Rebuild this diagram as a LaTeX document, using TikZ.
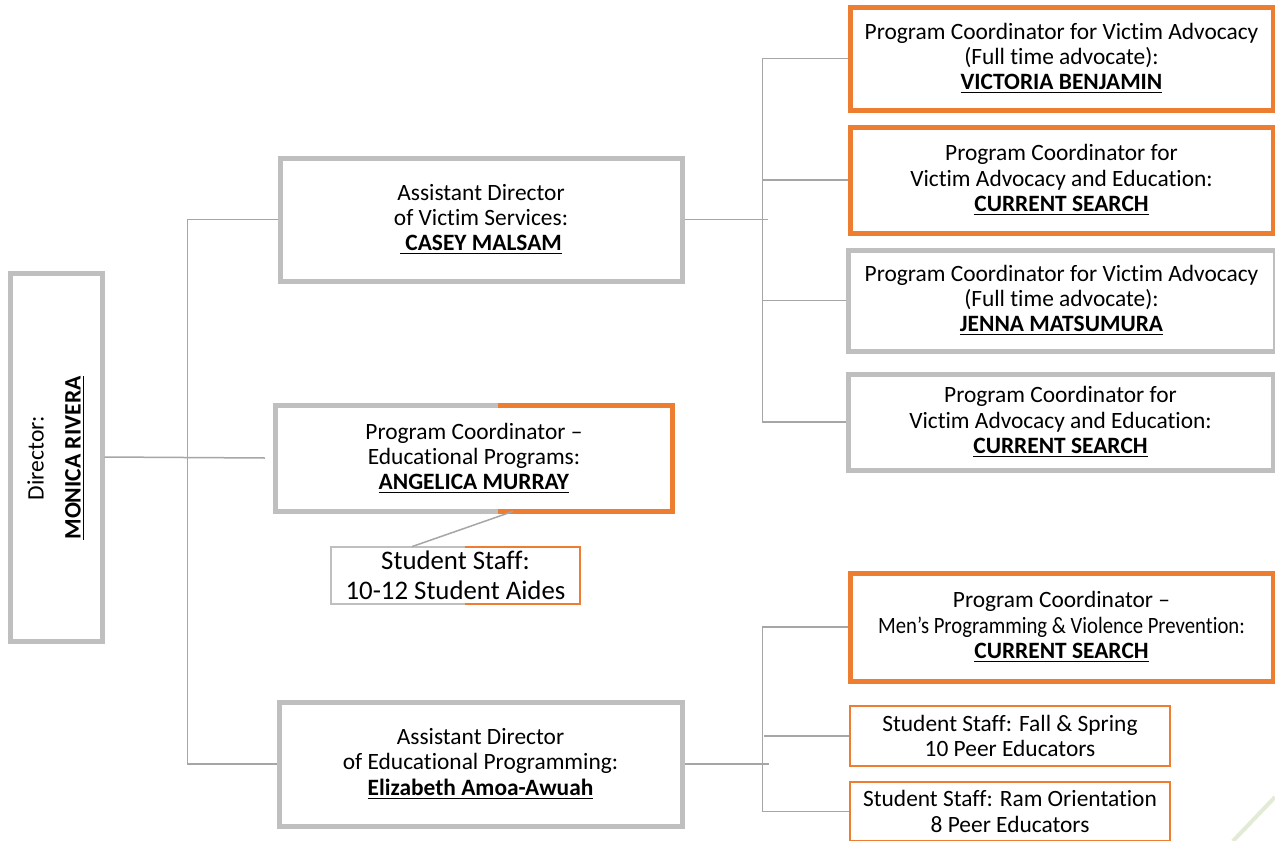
\documentclass[tikz,border=0pt]{standalone}
\usepackage{fontspec}
\setmainfont{Carlito}[Ligatures={TeX,NoCommon}]
\usepackage{graphicx}
\usetikzlibrary{calc}
\definecolor{org}{HTML}{ED7D31}
\definecolor{gbox}{HTML}{BFBFBF}
\definecolor{gline}{HTML}{A6A6A6}
\definecolor{grn}{HTML}{E3EBD6}
\begin{document}
\begin{tikzpicture}[x=0.5pt,y=-0.5pt,
  base/.style={shape=rectangle, align=center, inner sep=0pt, fill=white,
    font=\fontsize{11.7}{12.6}\selectfont},
  graybox/.style={base, draw=gbox, line width=2.5pt},
  orgbox/.style={base, draw=org, line width=2.5pt},
  orgthin/.style={base, draw=org, line width=1pt},
  splitbox/.style={base, draw=none},
  conn/.style={draw=gline, line width=0.75pt}]
\useasboundingbox (0,0) rectangle (1275,841);
\fill[white] (0,0) rectangle (1275,841);
\draw[grn, line width=2pt] (1233,841) -- (1275,797);

% left column
\node[graybox, minimum width=46pt, minimum height=184pt] (dir) at (56,457) {};
\node[rotate=90, align=center, font=\fontsize{11.8}{18.5}\selectfont] (dirtext) at (56,458)
  {Director:\\\underline{\textbf{MONICA RIVERA}}};

% middle column
\node[graybox, minimum width=201pt, minimum height=61.5pt] (avs) at (481,219.5)
  {Assistant Director\\of Victim Services:\\\underline{\textbf{\ CASEY MALSAM}}};
\node[splitbox, minimum width=198pt, minimum height=52.5pt] (pce) at (474,458.5)
  {Program Coordinator –\\Educational Programs:\\\underline{\textbf{ANGELICA MURRAY}}};
\coordinate (pcesplit) at (498,458.5);
\draw[gbox, line width=2.5pt, line join=miter] (pcesplit |- pce.north) -- (pce.north west) -- (pce.south west) -- (pcesplit |- pce.south);
\draw[org, line width=2.5pt, line join=miter] (pcesplit |- pce.north) -- (pce.north east) -- (pce.south east) -- (pcesplit |- pce.south);

\node[splitbox, minimum width=124.5pt, minimum height=28.5pt, font=\fontsize{13.4}{15}\selectfont] (ss) at (455.5,575.5)
  {Student Staff:\\10-12 Student Aides};
\coordinate (sssplit) at (465,575.5);
\draw[gbox, line width=1pt] (sssplit |- ss.north) -- (ss.north west) -- (ss.south west) -- (sssplit |- ss.south);
\draw[org, line width=1pt] (sssplit |- ss.north) -- (ss.north east) -- (ss.south east) -- (sssplit |- ss.south);

\node[graybox, minimum width=201.5pt, minimum height=62pt] (aep) at (480.5,764)
  {Assistant Director\\of Educational Programming:\\\underline{\textbf{Elizabeth Amoa-Awuah}}};

% right column
\node[orgbox, minimum width=211.5pt, minimum height=51.5pt] (vb) at (1061.5,58.5)
  {Program Coordinator for Victim Advocacy\\(Full time advocate):\\\underline{\textbf{VICTORIA BENJAMIN}}};
\node[orgbox, minimum width=211.5pt, minimum height=53pt] (cs1) at (1061.5,180)
  {Program Coordinator for\\Victim Advocacy and Education:\\\underline{\textbf{CURRENT SEARCH}}};
\node[graybox, minimum width=213.5pt, minimum height=50.5pt] (jm) at (1061.5,300.5)
  {Program Coordinator for Victim Advocacy\\(Full time advocate):\\\underline{\textbf{JENNA MATSUMURA}}};
\node[graybox, minimum width=212.5pt, minimum height=48pt] (cs2) at (1060.5,422)
  {Program Coordinator for\\Victim Advocacy and Education:\\\underline{\textbf{CURRENT SEARCH}}};
\node[orgbox, minimum width=211.5pt, minimum height=54pt] (men) at (1061.5,627)
  {Program Coordinator –\\\scalebox{0.885}[1]{Men’s Programming \& Violence Prevention:}\\\underline{\textbf{CURRENT SEARCH}}};
\node[orgthin, minimum width=160pt, minimum height=30pt] (fs) at (1010,736)
  {Student Staff: Fall \& Spring\\10 Peer Educators};
\node[orgthin, minimum width=160pt, minimum height=29.5pt] (ram) at (1010,811.5)
  {Student Staff: Ram Orientation\\8 Peer Educators};

% connectors
\coordinate (stub) at (265,458);
\draw[conn] (dir.east) -- (stub);
\draw[conn] (avs.west) -- ++(-90,0) |- (aep.west);
\draw[conn] (avs.east) -- ++(83,0);
\draw[conn] (vb.west) -- ++(-85,0) |- (cs2.west);
\draw[conn] (cs1.west) -- ++(-85,0);
\draw[conn] (jm.west) -- ++(-83,0);
\draw[conn] ($(pce.south)+(39,0)$) -- ($(ss.north)+(-43.5,0)$);
\draw[conn] (aep.east) -- ++(84,0);
\draw[conn] (men.west) -- ++(-85,0) |- (ram.west);
\draw[conn] (fs.west) -- ++(-85,0);
\end{tikzpicture}
\end{document}
